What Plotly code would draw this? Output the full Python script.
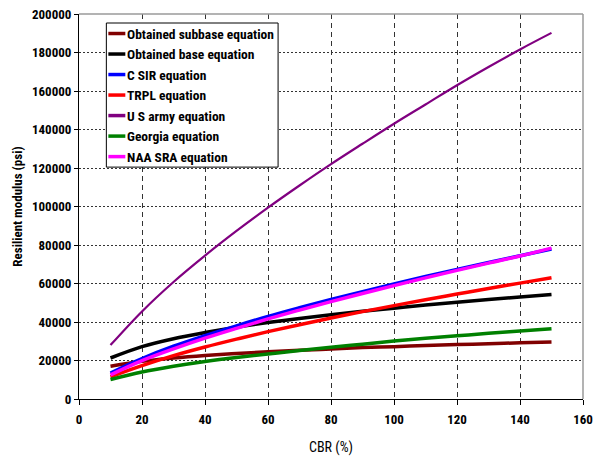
import plotly.graph_objects as go

cbr = [10, 20, 30, 40, 50, 60, 70, 80, 90, 100, 110, 120, 130, 140, 150]

subbase = [17000, 19600, 21300, 22600, 23600, 24500, 25300, 26000, 26700, 27200, 27800, 28300, 28700, 29200, 29600]
base = [21300, 27200, 31300, 34500, 37300, 39700, 41800, 43800, 45600, 47200, 48800, 50300, 51700, 53000, 54300]
csir = [13500, 21000, 27400, 32900, 38000, 42900, 47400, 51700, 55800, 59800, 63600, 67300, 70900, 74400, 77900]
trpl = [11500, 17300, 22500, 27000, 31100, 35000, 38600, 42100, 45400, 48500, 51600, 54500, 57400, 60200, 63000]
usarmy = [28000, 45500, 60800, 74500, 87300, 99400, 110900, 122000, 132600, 143000, 153000, 163000, 172500, 181600, 190200]
georgia = [10100, 14000, 17000, 19500, 21600, 23400, 25200, 26900, 28500, 30100, 31500, 32800, 34100, 35300, 36500]
naasra = [12500, 19900, 26000, 31600, 36700, 41600, 46200, 50600, 54800, 58900, 62900, 66800, 70600, 74300, 78400]

names = ["Obtained subbase equation", "Obtained base equation", "C SIR equation",
         "TRPL equation", "U S army equation", "Georgia equation", "NAA SRA equation"]
colors = ["#800000", "#000000", "#0000FF", "#FF0000", "#800080", "#008000", "#FF00FF"]
widths = [3.5, 3.5, 3.5, 3.5, 2.2, 3.5, 3.5]
values = [subbase, base, csir, trpl, usarmy, georgia, naasra]

FONT = "Roboto Condensed, Liberation Sans Narrow, Arial Narrow, Roboto, sans-serif"

fig = go.Figure()
for name, vals, color, w in zip(names, values, colors, widths):
    fig.add_trace(go.Scatter(
        x=cbr, y=vals, mode="lines", name=name,
        line=dict(color=color, width=w, shape="spline"),
        showlegend=False,
    ))

# plot area in pixels (for the hand-built legend box)
L, R, T, B = 78.6, 583.4, 14.0, 398.7
def px(xp):
    return (xp - L) / (R - L)
def py(yp):
    return (B - yp) / (B - T)

shapes = [
    dict(type="line", xref="paper", yref="paper", x0=0, x1=1, y0=1, y1=1,
         line=dict(color="#9a9a9a", width=1.5), layer="above"),
    dict(type="line", xref="paper", yref="paper", x0=1, x1=1, y0=0, y1=1,
         line=dict(color="#9a9a9a", width=1.5), layer="above"),
    dict(type="rect", xref="paper", yref="paper", x0=px(106), x1=px(278), y0=py(167), y1=py(23),
         fillcolor="white", line=dict(color="black", width=1), layer="above"),
]
annotations = []
for i, (name, color) in enumerate(zip(names, colors)):
    yy = 33.5 + 20.5 * i
    shapes.append(dict(type="line", xref="paper", yref="paper", x0=px(108), x1=px(125),
                       y0=py(yy), y1=py(yy), line=dict(color=color, width=3.5), layer="above"))
    annotations.append(dict(xref="paper", yref="paper", x=px(124.5), y=py(yy), text=name,
                            showarrow=False, xanchor="left", yanchor="middle",
                            font=dict(family=FONT, size=13.5, color="black", weight="bold")))

fig.update_layout(
    width=602, height=458,
    margin=dict(l=79, r=19, t=14, b=59),
    paper_bgcolor="white", plot_bgcolor="white",
    font=dict(family=FONT, size=12, color="black"),
    showlegend=False,
    xaxis=dict(
        range=[0, 160], dtick=20, tick0=0, automargin=False,
        showline=True, linecolor="black", linewidth=1,
        ticks="outside", ticklen=5, tickcolor="black", ticklabelstandoff=3,
        showgrid=True, gridcolor="#333333", gridwidth=1, griddash="5px,4px",
        zeroline=False,
        tickfont=dict(family=FONT, size=13, weight="bold"),
        title=dict(text="CBR (%)", font=dict(family=FONT, size=14), standoff=16),
    ),
    yaxis=dict(
        range=[0, 200000], dtick=20000, tick0=0, tickformat="d", automargin=False,
        showline=True, linecolor="black", linewidth=1,
        ticks="outside", ticklen=4, tickcolor="black",
        showgrid=True, gridcolor="#333333", gridwidth=1, griddash="2px,2px",
        zeroline=False,
        tickfont=dict(family=FONT, size=13, weight="bold"),
        title=dict(text="Resilient modulus (psi)", font=dict(family=FONT, size=13, weight="bold"), standoff=6),
    ),
    shapes=shapes,
    annotations=annotations,
)

fig.write_html("out.html", config={"displayModeBar": False},
               post_script="document.body.style.margin='0';document.body.style.overflow='hidden';")
